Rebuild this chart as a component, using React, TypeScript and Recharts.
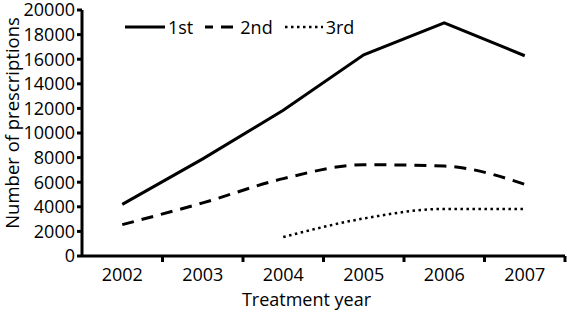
import React from 'react';
import { LineChart, Line, XAxis, YAxis } from 'recharts';

const years = [2002, 2003, 2004, 2005, 2006, 2007];
const firstLine = [4200, 7900, 11850, 16360, 18950, 16280];
const secondLine = [2550, 4320, 6290, 7420, 7310, 5830];
const thirdLine: (number | null)[] = [null, null, 1540, 3050, 3830, 3830];
const yTicks = [0, 2000, 4000, 6000, 8000, 10000, 12000, 14000, 16000, 18000, 20000];
const seriesNames = ['1st', '2nd', '3rd'];
const yTitle = 'Number of prescriptions';
const xTitle = 'Treatment year';

const data = years.map((year, i) => ({
  year,
  first: firstLine[i],
  second: secondLine[i],
  third: thirdLine[i],
}));

const seriesStyle = [
  { key: 'first', dash: undefined as string | undefined, type: 'linear' as const, sample: 40, sampleDash: undefined as string | undefined, sampleOffset: 0, width: 3 },
  { key: 'second', dash: '12 8', type: 'monotone' as const, sample: 32, sampleDash: '12 8', sampleOffset: 4, width: 3 },
  { key: 'third', dash: '2.5 3.5', type: 'monotone' as const, sample: 38, sampleDash: '2.5 3.5', sampleOffset: 0, width: 2.5 },
];

const FONT = '"Open Sans", sans-serif';
const X_TICK_SIZE = 6;
const X_TICK_MARGIN = 6;

function YearTick(props: any) {
  const { x, y, width, visibleTicksCount, payload } = props;
  const half = width / (2 * visibleTicksCount);
  const axisY = y - X_TICK_SIZE - X_TICK_MARGIN;
  return (
    <g>
      <line x1={x + half} y1={axisY} x2={x + half} y2={axisY + X_TICK_SIZE} stroke="#000" strokeWidth={3} />
      <text x={x} y={y} dy="0.71em" textAnchor="middle" fill="#000" fontSize={18} fontFamily={FONT}>
        {payload.value}
      </text>
    </g>
  );
}

function YTitle(props: any) {
  const vb = props.viewBox || { x: 0, y: 0, width: 0, height: 0 };
  const cx = vb.x + 11;
  const cy = vb.y + vb.height / 2 - 10;
  return (
    <text
      x={cx}
      y={cy}
      transform={`rotate(-90, ${cx}, ${cy})`}
      textAnchor="middle"
      dominantBaseline="central"
      fill="#000"
      fontSize={18.5}
      fontFamily={FONT}
    >
      {yTitle}
    </text>
  );
}

export default function App() {
  return (
    <div style={{ position: 'absolute', left: 0, top: 0, width: 567, height: 313, fontFamily: FONT, background: '#fff' }}>
      <LineChart width={567} height={313} data={data} margin={{ top: 10, right: 2, bottom: 0, left: 0 }}>
        <XAxis
          type="number"
          dataKey="year"
          domain={[2001.5, 2007.5]}
          ticks={years}
          interval={0}
          axisLine={{ stroke: '#000', strokeWidth: 3 }}
          tickLine={false}
          tickSize={X_TICK_SIZE}
          tickMargin={X_TICK_MARGIN}
          height={57}
          tick={<YearTick />}
          label={{ value: xTitle, position: 'insideBottom', offset: 7, dx: -17, style: { fill: '#000', fontSize: 18, fontFamily: FONT } }}
        />
        <YAxis
          width={82}
          domain={[0, 20000]}
          ticks={yTicks}
          interval={0}
          tickSize={5}
          tickMargin={2}
          axisLine={{ stroke: '#000', strokeWidth: 3 }}
          tickLine={{ stroke: '#000', strokeWidth: 3 }}
          tick={{ fill: '#000', fontSize: 18, fontFamily: FONT }}
          label={{ content: <YTitle /> }}
        />
        {seriesStyle.map((s, i) => (
          <Line
            key={s.key}
            type={s.type}
            dataKey={s.key}
            name={seriesNames[i]}
            stroke="#000"
            strokeWidth={s.width}
            strokeDasharray={s.dash}
            dot={false}
            activeDot={false}
            isAnimationActive={false}
          />
        ))}
      </LineChart>
      <div
        style={{
          position: 'absolute',
          top: 15,
          left: 125,
          display: 'flex',
          alignItems: 'center',
          fontSize: 18,
          lineHeight: '24px',
          color: '#000',
        }}
      >
        {seriesStyle.map((s, i) => (
          <div key={s.key} style={{ display: 'flex', alignItems: 'center', marginRight: 12 }}>
            <svg width={s.sample} height={10} style={{ display: 'block' }}>
              <line
                x1={0}
                y1={5}
                x2={s.sample}
                y2={5}
                stroke="#000"
                strokeWidth={s.width}
                strokeDasharray={s.sampleDash}
                strokeDashoffset={s.sampleOffset}
              />
            </svg>
            <span style={{ marginLeft: 3 }}>{seriesNames[i]}</span>
          </div>
        ))}
      </div>
    </div>
  );
}
